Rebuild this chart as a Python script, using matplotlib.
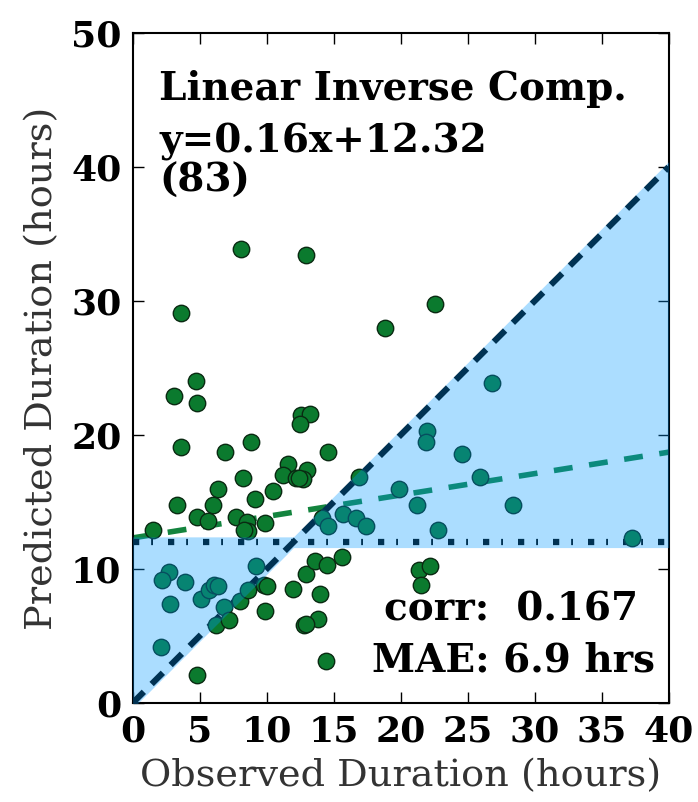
import numpy as np
import matplotlib
matplotlib.use("Agg")
import matplotlib.pyplot as plt

# ---- data ----
observed = [8.1, 12.9, 3.6, 22.6, 18.8, 4.7, 26.8, 3.1, 4.8, 12.6, 13.2, 12.5,
            22.0, 21.9, 3.6, 6.9, 8.8, 14.6, 24.6, 11.6, 11.2, 13.0, 12.2, 12.7,
            8.2, 16.9, 25.9, 6.4, 10.5, 19.9, 9.1, 3.3, 6.0, 21.2, 28.4, 4.8,
            5.6, 7.7, 8.5, 8.6, 8.3, 9.9, 1.5, 14.1, 14.6, 15.7, 16.7, 17.4,
            22.8, 37.3, 2.7, 2.2, 3.9, 2.8, 2.1, 5.1, 5.7, 6.1, 6.4, 6.8, 6.2,
            7.2, 8.0, 8.6, 9.2, 4.8, 9.8, 10.0, 9.9, 12.0, 12.95, 13.6, 14.5,
            15.6, 14.0, 13.8, 12.8, 12.95, 14.4, 21.4, 22.2, 21.5, 12.45]
predicted = [33.9, 33.4, 29.1, 29.8, 28.0, 24.0, 23.9, 22.9, 22.4, 21.5, 21.6, 20.8,
             20.3, 19.5, 19.1, 18.7, 19.5, 18.7, 18.6, 17.8, 17.0, 17.4, 16.8, 16.7,
             16.8, 16.9, 16.9, 16.0, 15.8, 16.0, 15.2, 14.8, 14.8, 14.8, 14.8, 13.9,
             13.6, 13.9, 13.5, 12.8, 12.9, 13.4, 12.9, 13.8, 13.2, 14.1, 13.8, 13.2,
             12.9, 12.3, 9.75, 9.2, 9.0, 7.4, 4.2, 7.8, 8.4, 8.8, 8.7, 7.2, 5.8,
             6.2, 7.6, 8.4, 10.2, 2.1, 8.8, 8.7, 6.9, 8.5, 9.6, 10.6, 10.3,
             10.9, 8.1, 6.3, 5.85, 5.9, 3.1, 9.9, 10.2, 8.8, 16.8]
slope = 0.16
intercept = 12.32
mean_line = 12.0
n_points = 83
corr = 0.167
mae = 6.9
title = "Linear Inverse Comp."
x_ticks = [0, 5, 10, 15, 20, 25, 30, 35, 40]
y_ticks = [0, 10, 20, 30, 40, 50]

plt.rcParams['font.family'] = ['DejaVu Serif']

fig = plt.figure(figsize=(6.98, 8.02), dpi=100)
ax = fig.add_axes([0.19, 0.1234, 0.768, 0.8355])

ax.set_xlim(0, 40)
ax.set_ylim(0, 50)

# points
ax.scatter(observed, predicted, s=140, color="#0b7a2e", edgecolors="#0a2a12",
           linewidths=1.0, zorder=3)

# regression line
xs = np.linspace(0, 40, 200)
ax.plot(xs, slope * xs + intercept, color="#13843e", lw=4.0,
        linestyle=(0, (3.4, 3.0)), zorder=2)

# identity line
ax.plot([0, 40], [0, 40], color="black", lw=4.4,
        linestyle=(0, (2.6, 1.8)), zorder=2)

# mean line
ax.plot([0, 40], [mean_line, mean_line], color="black", lw=4.5,
        linestyle=(0, (1.0, 1.9, 0.3, 2.4)), zorder=2)

# shaded region
d = 0.4
xf = np.linspace(0, 40, 801)
lower = np.minimum(xf - d, mean_line - 0.4)
upper = np.maximum(xf + d, mean_line + 0.4)
ax.fill_between(xf, lower, upper, color="#0099ff", alpha=0.33, lw=0, zorder=4)

# texts
tkw = dict(fontsize=28, fontweight="bold", transform=ax.transAxes, zorder=5)
ax.text(0.05, 0.917, title, va="center", ha="left", **tkw)
ax.text(0.05, 0.838, "y=%.2fx+%.2f" % (slope, intercept), va="center", ha="left", **tkw)
ax.text(0.05, 0.780, "(%d)" % n_points, va="center", ha="left", **tkw)
ax.text(0.943, 0.140, "corr:  %.3f" % corr, va="center", ha="right", **tkw)
ax.text(0.975, 0.063, "MAE: %.1f hrs" % mae, va="center", ha="right", **tkw)

ax.set_xticks(x_ticks)
ax.set_yticks(y_ticks)
ax.tick_params(direction="in", length=8, width=1, top=True, right=True,
               labelsize=26, pad=8)
for lab in ax.get_xticklabels() + ax.get_yticklabels():
    lab.set_fontweight("bold")
for sp in ax.spines.values():
    sp.set_linewidth(1.5)

ax.set_xlabel("Observed Duration (hours)", fontsize=27.5, color="#333333", labelpad=7)
ax.set_ylabel("Predicted Duration (hours)", fontsize=27.5, color="#333333", labelpad=8)

fig.savefig("out.png", dpi=100)
